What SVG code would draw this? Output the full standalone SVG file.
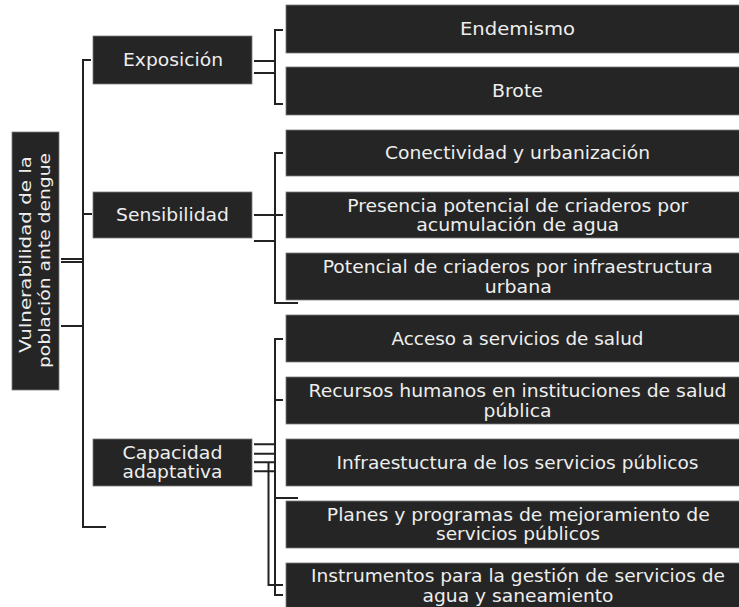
<svg xmlns="http://www.w3.org/2000/svg" width="739" height="607" viewBox="0 0 739 607">
<style>
.box{fill:#252525;stroke:#7a7a7a;stroke-width:0.8}
.t{font-family:"DejaVu Sans","Liberation Sans",sans-serif;font-size:17px;fill:#eeeeee;text-anchor:middle}
.r{font-family:"DejaVu Sans","Liberation Sans",sans-serif;font-size:16px;fill:#eeeeee;text-anchor:middle}
.c{fill:none;stroke:#222222;stroke-width:2}
</style>
<rect width="739" height="607" fill="#ffffff"/>
<g id="connectors">
<path class="c" d="M91,60 H83 V527 H106"/>
<path class="c" d="M92,214 H83"/>
<path class="c" d="M61,259 H83 M61,262 H83 M61,326 H83"/>
<path class="c" d="M254,61 H275 M254,73 H275 M283,30 H275 V104 H283"/>
<path class="c" d="M254,215 H283 M254,241 H275 M283,153 H275 V303 H298"/>
<path class="c" d="M254,444.3 H275 M254,453.7 H275 M254,462.3 H275 M254,471.3 H275"/>
<path class="c" d="M283,339 H275 V595 H283 M275,400 H283 M275,498 H298"/>
<path class="c" d="M268.5,462.3 V585 H283"/>
</g>
<g id="root">
<rect class="box" x="12" y="132" width="47" height="258"/>
<text class="r" transform="translate(31,254.5) rotate(-90)" textLength="197" lengthAdjust="spacingAndGlyphs">Vulnerabilidad de la</text>
<text class="r" transform="translate(50,260.5) rotate(-90)" textLength="215" lengthAdjust="spacingAndGlyphs">población ante dengue</text>
</g>
<g id="exposicion">
<rect class="box" x="93" y="36" width="159" height="48"/>
<text class="t" x="173" y="66" textLength="100" lengthAdjust="spacingAndGlyphs">Exposición</text>
</g>
<g id="sensibilidad">
<rect class="box" x="93" y="192" width="159" height="46"/>
<text class="t" x="172.5" y="221" textLength="113" lengthAdjust="spacingAndGlyphs">Sensibilidad</text>
</g>
<g id="capacidad">
<rect class="box" x="93" y="439" width="159" height="47"/>
<text class="t" x="172.5" y="458.5" textLength="100" lengthAdjust="spacingAndGlyphs">Capacidad</text>
<text class="t" x="172.5" y="478" textLength="100" lengthAdjust="spacingAndGlyphs">adaptativa</text>
</g>
<g id="endemismo">
<rect class="box" x="286" y="5" width="462" height="48"/>
<text class="t" x="517.5" y="35" textLength="115" lengthAdjust="spacingAndGlyphs">Endemismo</text>
</g>
<g id="brote">
<rect class="box" x="286" y="67" width="462" height="48"/>
<text class="t" x="517.5" y="97" textLength="51" lengthAdjust="spacingAndGlyphs">Brote</text>
</g>
<g id="conectividad">
<rect class="box" x="286" y="130" width="462" height="46"/>
<text class="t" x="517.5" y="159" textLength="265" lengthAdjust="spacingAndGlyphs">Conectividad y urbanización</text>
</g>
<g id="presencia">
<rect class="box" x="286" y="192" width="462" height="46"/>
<text class="t" x="517.8" y="211.5" textLength="341" lengthAdjust="spacingAndGlyphs">Presencia potencial de criaderos por</text>
<text class="t" x="517.7" y="231" textLength="203" lengthAdjust="spacingAndGlyphs">acumulación de agua</text>
</g>
<g id="potencial">
<rect class="box" x="286" y="253" width="462" height="47"/>
<text class="t" x="517.7" y="273" textLength="390" lengthAdjust="spacingAndGlyphs">Potencial de criaderos por infraestructura</text>
<text class="t" x="518.3" y="292.5" textLength="67" lengthAdjust="spacingAndGlyphs">urbana</text>
</g>
<g id="acceso">
<rect class="box" x="286" y="315" width="462" height="47"/>
<text class="t" x="517.5" y="345" textLength="252" lengthAdjust="spacingAndGlyphs">Acceso a servicios de salud</text>
</g>
<g id="recursos">
<rect class="box" x="286" y="377" width="462" height="47"/>
<text class="t" x="517.5" y="397" textLength="418" lengthAdjust="spacingAndGlyphs">Recursos humanos en instituciones de salud</text>
<text class="t" x="517.5" y="416.5" textLength="68" lengthAdjust="spacingAndGlyphs">pública</text>
</g>
<g id="infraestuctura">
<rect class="box" x="286" y="439" width="462" height="47"/>
<text class="t" x="517.5" y="468.5" textLength="362" lengthAdjust="spacingAndGlyphs">Infraestuctura de los servicios públicos</text>
</g>
<g id="planes">
<rect class="box" x="286" y="501" width="462" height="47"/>
<text class="t" x="518.3" y="520.5" textLength="383" lengthAdjust="spacingAndGlyphs">Planes y programas de mejoramiento de</text>
<text class="t" x="518" y="540" textLength="164" lengthAdjust="spacingAndGlyphs">servicios públicos</text>
</g>
<g id="instrumentos">
<rect class="box" x="286" y="563" width="462" height="47"/>
<text class="t" x="518" y="582" textLength="414" lengthAdjust="spacingAndGlyphs">Instrumentos para la gestión de servicios de</text>
<text class="t" x="518" y="601.5" textLength="191" lengthAdjust="spacingAndGlyphs">agua y saneamiento</text>
</g>
</svg>
